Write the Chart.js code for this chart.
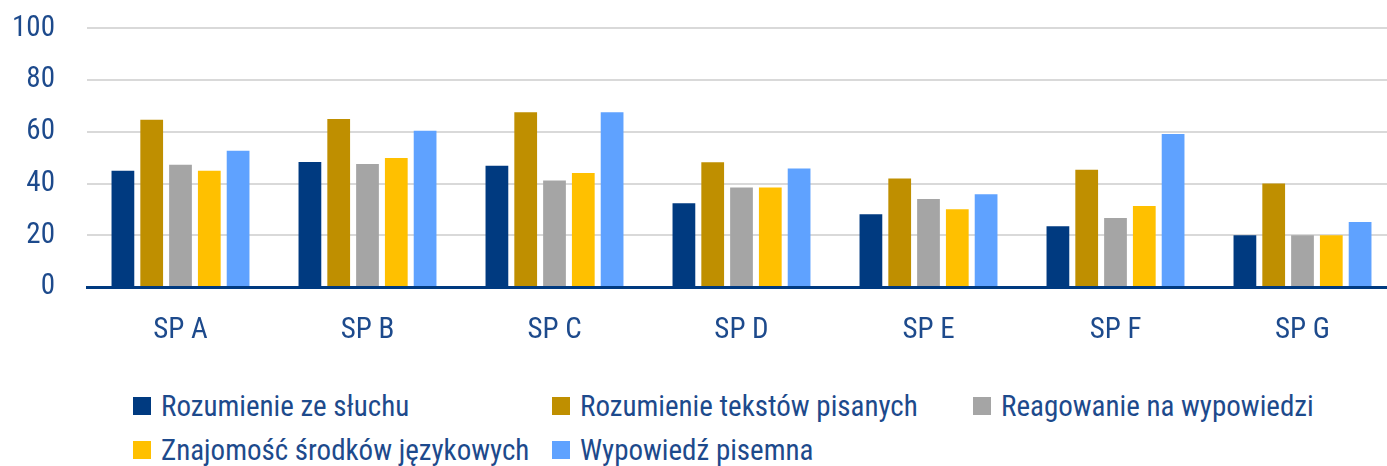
<!DOCTYPE html>
<html lang="pl">
<head>
  <meta charset="UTF-8" />
  <title>Wyniki SP</title>
  <style>
    body {
      margin: 0;
      padding: 0;
      background: #fff;
      overflow: hidden;
      font-family: 'Roboto Condensed', 'Liberation Sans Narrow', 'DejaVu Sans Condensed', Roboto, sans-serif;
    }
    .wrap {
      position: relative;
      width: 1396px;
      height: 466px;
    }
    .chart-box {
      position: absolute;
      left: 0;
      top: -21px;
      width: 1396px;
      height: 396px;
    }
    #legenda {
      position: absolute;
      left: 133px;
      top: 384px;
      display: grid;
      grid-template-columns: 419px 421px 420px;
      grid-auto-rows: 44px;
      color: #1d4a8c;
      font-size: 29px;
    }
    #legenda .item {
      display: flex;
      align-items: center;
      white-space: nowrap;
    }
    #legenda .box {
      width: 18px;
      height: 18px;
      margin-right: 10px;
      flex: none;
    }
  </style>
</head>
<body>
  <div class="wrap">
    <div class="chart-box">
      <canvas id="wykres"></canvas>
    </div>
    <div id="legenda"></div>
  </div>

  <script src="https://cdn.jsdelivr.net/npm/chart.js"></script>
  <script>
    const kategorie = ['SP A', 'SP B', 'SP C', 'SP D', 'SP E', 'SP F', 'SP G'];
    const nazwySerii = [
      'Rozumienie ze słuchu',
      'Rozumienie tekstów pisanych',
      'Reagowanie na wypowiedzi',
      'Znajomość środków językowych',
      'Wypowiedź pisemna'
    ];
    const rozumienieZeSluchu = [45, 48.3, 46.9, 32.4, 28.1, 23.5, 20];
    const rozumienieTekstow = [64.7, 65, 67.6, 48.2, 42, 45.3, 40];
    const reagowanie = [47.3, 47.6, 41.2, 38.5, 34, 26.7, 20];
    const znajomoscSrodkow = [45, 49.9, 44.1, 38.5, 30.1, 31.3, 20];
    const wypowiedzPisemna = [52.7, 60.4, 67.6, 45.8, 35.9, 59.2, 25.1];
    const osY = [0, 20, 40, 60, 80, 100];

    const kolory = ['#003a80', '#bf8f00', '#a5a5a5', '#ffc000', '#5fa2ff'];
    const kolorTekstu = '#1d4a8c';
    const czcionka = "'Roboto Condensed', 'Liberation Sans Narrow', 'DejaVu Sans Condensed', Roboto, sans-serif";

    const serie = [rozumienieZeSluchu, rozumienieTekstow, reagowanie, znajomoscSrodkow, wypowiedzPisemna];

    const ctx = document.getElementById('wykres').getContext('2d');
    const chart = new Chart(ctx, {
      type: 'bar',
      data: {
        labels: kategorie,
        datasets: serie.map((dane, i) => ({
          label: nazwySerii[i],
          data: dane,
          backgroundColor: kolory[i],
          borderWidth: 0,
          categoryPercentage: 0.77,
          barPercentage: 0.79
        }))
      },
      options: {
        responsive: true,
        maintainAspectRatio: false,
        animation: false,
        layout: {
          padding: { top: 6, right: 0, left: 0, bottom: 0 }
        },
        plugins: {
          legend: { display: false },
          tooltip: { enabled: false }
        },
        scales: {
          x: {
            grid: { display: false, drawTicks: false },
            border: { color: '#003a80', width: 3 },
            ticks: {
              color: kolorTekstu,
              padding: 26,
              font: { family: czcionka, size: 29 }
            },
            afterFit: function(scale) { scale.height = 88; }
          },
          y: {
            min: 0,
            max: 100,
            afterBuildTicks: function(scale) {
              scale.ticks = osY.map(v => ({ value: v }));
            },
            grid: { color: '#d9d9d9', lineWidth: 2, drawTicks: false },
            border: { display: false },
            ticks: {
              color: kolorTekstu,
              padding: 32,
              font: { family: czcionka, size: 29 }
            },
            afterFit: function(scale) { scale.width = 87; }
          }
        }
      }
    });

    const legenda = document.getElementById('legenda');
    nazwySerii.forEach((nazwa, i) => {
      legenda.innerHTML += `<div class="item"><span class="box" style="background:${kolory[i]}"></span>${nazwa}</div>`;
    });
  </script>
</body>
</html>
